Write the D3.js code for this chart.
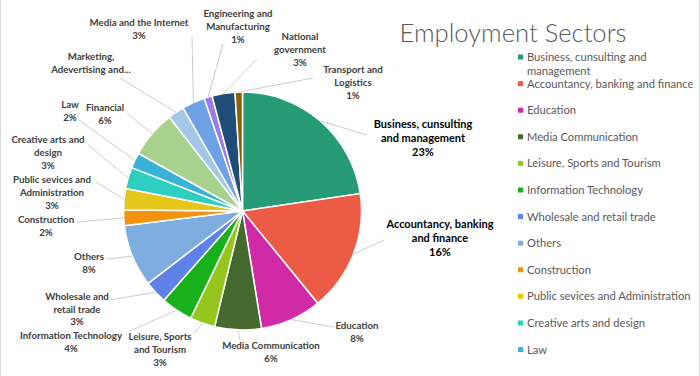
<!DOCTYPE html>
<html>
<head>
<meta charset="utf-8">
<script src="https://cdn.jsdelivr.net/npm/d3@7"></script>
<style>
  body { margin: 0; background: #fff; }
  svg { display: block; font-family: Lato, "Open Sans", sans-serif; }
</style>
</head>
<body>
<div id="content"></div>
<script>
const categories = [
  "Business, cunsulting and management",
  "Accountancy, banking and finance",
  "Education",
  "Media Communication",
  "Leisure, Sports and Tourism",
  "Information Technology",
  "Wholesale and retail trade",
  "Others",
  "Construction",
  "Public sevices and Administration",
  "Creative arts and design",
  "Law",
  "Financial",
  "Marketing, Adevertising and PR",
  "Media and the Internet",
  "Engineering and Manufacturing",
  "National government",
  "Transport and Logistics",
];

const shares = [22.6, 16.4, 8.3, 6.3, 3.4, 4.3, 3.1, 8.4, 2.1, 2.9, 2.9, 2.1, 6.4, 2.2, 3.1, 1.1, 3.1, 1.0];

const colors = [
  "#279b75", "#ec5b45", "#d12aa6", "#45692e", "#95c61e", "#18b11c",
  "#5e82ea", "#7eaedf", "#f2930e", "#e5c71c", "#2ecfc1", "#3ab2d6",
  "#a9d18e", "#a4c6e9", "#6fa1e6", "#9a7ce9", "#1f4d78", "#8a6107",
];

// label text as shown on the chart ("|" = line break)
const labelText = [
  "Business, cunsulting|and management",
  "Accountancy, banking|and finance",
  "Education",
  "Media Communication",
  "Leisure, Sports|and Tourism",
  "Information Technology",
  "Wholesale and|retail trade",
  "Others",
  "Construction",
  "Public sevices and|Administration",
  "Creative arts and|design",
  "Law",
  "Financial",
  "Marketing,|Adevertising and...",
  "Media and the Internet",
  "Engineering and|Manufacturing",
  "National|government",
  "Transport and|Logistics",
];

// legend only shows the first entries
const legendCount = 12;

const width = 700;
const height = 376;
const cx = 242.5;
const cy = 211;
const radius = 119;

// label placement (centre x, first line y) and leader end points
const labelPos = [
  [423, 124], [440, 224], [357, 326], [271, 346], [160, 337], [71, 336],
  [77, 297], [89, 257], [46, 220], [52, 180], [48, 140], [70, 105],
  [105, 108], [91, 57], [139, 23], [238, 14], [300, 37], [353, 70],
];
const leaderEnd = [
  [367, 135], [384, 240], [334, 327], [240, 340], [194, 334], [130, 331],
  [110, 300], [107, 259], [77, 222], [96, 182], [88, 145], [79, 120],
  [127, 113], [120, 78], [192, 36], [223, 44], [257, 59], [313, 78],
];

const data = categories.map((c, i) => ({
  name: c,
  value: shares[i],
  color: colors[i],
  label: labelText[i],
}));
const total = d3.sum(shares);
const pct = d3.format(".0%");

const svg = d3
  .select("#content")
  .append("svg")
  .attr("width", width)
  .attr("height", height);

// faint chart border on the sides
svg.append("line").attr("x1", 0.5).attr("x2", 0.5).attr("y1", 0).attr("y2", height)
  .attr("stroke", "#d9d9d9");
svg.append("line").attr("x1", 699.5).attr("x2", 699.5).attr("y1", 0).attr("y2", height)
  .attr("stroke", "#d9d9d9");

// title
svg
  .append("text")
  .attr("x", 513)
  .attr("y", 42)
  .attr("text-anchor", "middle")
  .attr("font-size", 25.6)
  .attr("font-weight", 300)
  .attr("fill", "#595959")
  .text("Employment Sectors");

const pie = d3.pie().sort(null).value((d) => d.value);
const arcs = pie(data);
const arc = d3.arc().innerRadius(0).outerRadius(radius);
const edge = d3.arc().innerRadius(radius).outerRadius(radius);

const g = svg.append("g").attr("transform", `translate(${cx},${cy})`);

g.selectAll("path")
  .data(arcs)
  .enter()
  .append("path")
  .attr("d", arc)
  .attr("fill", (d) => d.data.color)
  .attr("stroke", "#fff")
  .attr("stroke-width", 1.5);

// leader lines
svg
  .append("g")
  .selectAll("polyline")
  .data(arcs)
  .enter()
  .append("polyline")
  .attr("points", (d, i) => {
    const [x, y] = edge.centroid(d);
    return [[cx + x, cy + y], leaderEnd[i]].map((p) => p.join(",")).join(" ");
  })
  .attr("fill", "none")
  .attr("stroke", "#bfbfbf")
  .attr("stroke-width", 0.8);

// data labels
const labels = svg
  .append("g")
  .selectAll("text")
  .data(arcs)
  .enter()
  .append("text")
  .attr("text-anchor", "middle")
  .attr("font-weight", "bold")
  .attr("font-size", (d, i) => (i < 2 ? 11 : 9.7))
  .attr("fill", (d, i) => (i < 2 ? "#000" : "#404040"));

labels.each(function (d, i) {
  const lines = d.data.label.split("|");
  if (i !== 13) lines.push(pct(d.data.value / total));
  const lh = i < 2 ? 14.2 : i === 6 ? 12.3 : 12.8;
  d3.select(this)
    .selectAll("tspan")
    .data(lines)
    .enter()
    .append("tspan")
    .attr("x", labelPos[i][0])
    .attr("y", (l, j) => labelPos[i][1] + j * lh)
    .attr("dy", "0.35em")
    .text((l) => l);
});

// legend
const legend = svg
  .append("g")
  .selectAll("g")
  .data(data.slice(0, legendCount))
  .enter()
  .append("g")
  .attr("transform", (d, i) => `translate(518,${57 + i * 26.6})`);

legend
  .append("rect")
  .attr("x", 0)
  .attr("y", -2.5)
  .attr("width", 5)
  .attr("height", 5)
  .attr("fill", (d) => d.color);

legend
  .append("text")
  .attr("font-size", 11.2)
  .attr("fill", "#595959")
  .each(function (d, i) {
    const lines = i === 0 ? ["Business, cunsulting and", "management"] : [d.name];
    d3.select(this)
      .selectAll("tspan")
      .data(lines)
      .enter()
      .append("tspan")
      .attr("x", 9)
      .attr("y", (l, j) => j * 14.3)
      .attr("dy", "0.35em")
      .text((l) => l);
  });
</script>
</body>
</html>
